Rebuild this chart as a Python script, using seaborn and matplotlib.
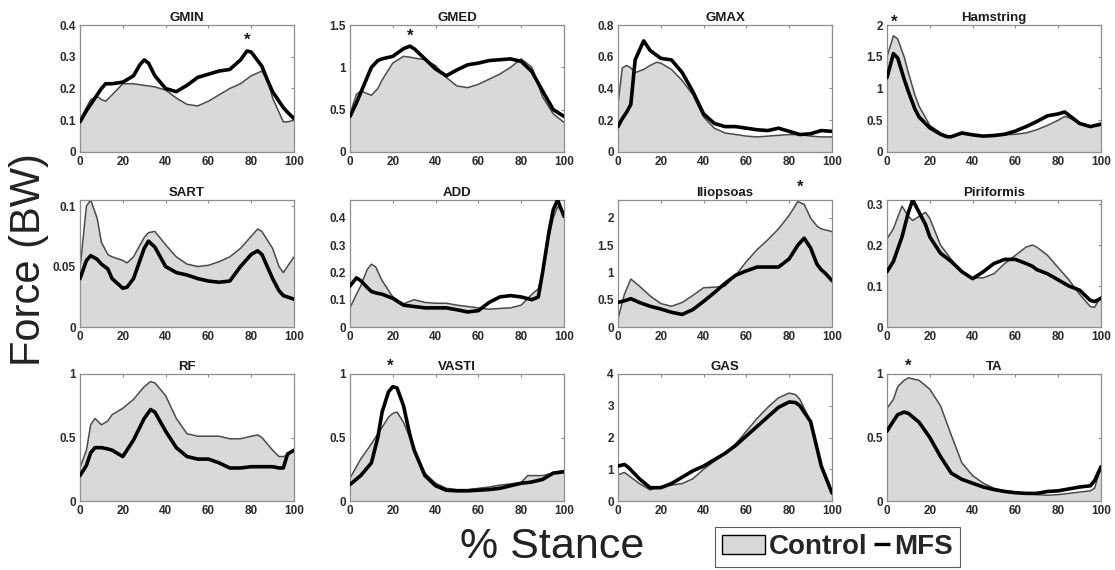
import matplotlib
matplotlib.use("Agg")
import matplotlib.pyplot as plt
from matplotlib.ticker import FuncFormatter
from matplotlib.lines import Line2D
from matplotlib.patches import Patch
from matplotlib.legend_handler import HandlerBase
import seaborn as sns

# ---------------- data ----------------
GMIN_X = [0, 3, 5, 8, 10, 12, 15, 20, 25, 28, 30, 32, 35, 40, 45, 50, 55, 60, 65, 70, 75, 78, 80, 85, 88, 90, 95, 97, 100]
GMIN_CTRL = [0.10, 0.14, 0.165, 0.175, 0.165, 0.16, 0.18, 0.215, 0.215, 0.212, 0.21, 0.208, 0.205, 0.195, 0.17, 0.15, 0.145, 0.16, 0.18, 0.20, 0.215, 0.23, 0.24, 0.255, 0.22, 0.17, 0.095, 0.095, 0.10]
GMIN_MFS = [0.095, 0.13, 0.15, 0.18, 0.20, 0.215, 0.215, 0.22, 0.24, 0.275, 0.29, 0.28, 0.24, 0.20, 0.19, 0.21, 0.235, 0.245, 0.255, 0.26, 0.29, 0.318, 0.315, 0.27, 0.22, 0.19, 0.14, 0.125, 0.105]

GMED_X = [0, 3, 5, 8, 10, 13, 15, 20, 25, 28, 30, 35, 40, 45, 50, 55, 60, 65, 70, 75, 80, 85, 90, 95, 100]
GMED_CTRL = [0.45, 0.68, 0.72, 0.69, 0.67, 0.75, 0.85, 1.05, 1.13, 1.12, 1.11, 1.09, 1.02, 0.88, 0.78, 0.76, 0.80, 0.86, 0.92, 1.00, 1.10, 1.00, 0.65, 0.45, 0.35]
GMED_MFS = [0.42, 0.58, 0.70, 0.88, 1.00, 1.08, 1.10, 1.13, 1.22, 1.25, 1.22, 1.10, 0.98, 0.90, 0.97, 1.03, 1.05, 1.08, 1.09, 1.10, 1.07, 0.95, 0.72, 0.50, 0.42]

GMAX_X = [0, 2, 4, 6, 8, 10, 12, 15, 18, 20, 25, 30, 35, 40, 45, 50, 55, 60, 65, 70, 75, 80, 85, 90, 95, 100]
GMAX_CTRL = [0.30, 0.53, 0.545, 0.53, 0.50, 0.51, 0.52, 0.545, 0.565, 0.56, 0.52, 0.45, 0.36, 0.22, 0.15, 0.12, 0.11, 0.10, 0.095, 0.10, 0.105, 0.11, 0.11, 0.10, 0.095, 0.095]
GMAX_MFS = [0.16, 0.21, 0.25, 0.30, 0.58, 0.64, 0.70, 0.64, 0.61, 0.59, 0.58, 0.50, 0.38, 0.24, 0.18, 0.16, 0.16, 0.15, 0.14, 0.135, 0.15, 0.13, 0.11, 0.115, 0.135, 0.13]

HAM_X = [0, 3, 5, 8, 10, 13, 15, 20, 25, 28, 30, 35, 40, 45, 50, 55, 60, 65, 70, 75, 80, 83, 85, 90, 95, 100]
HAM_CTRL = [1.50, 1.83, 1.78, 1.50, 1.25, 0.90, 0.72, 0.42, 0.30, 0.26, 0.25, 0.28, 0.27, 0.25, 0.25, 0.27, 0.28, 0.30, 0.35, 0.42, 0.50, 0.56, 0.54, 0.45, 0.40, 0.42]
HAM_MFS = [1.17, 1.55, 1.48, 1.15, 0.95, 0.68, 0.55, 0.38, 0.28, 0.24, 0.24, 0.30, 0.27, 0.25, 0.26, 0.28, 0.33, 0.40, 0.48, 0.57, 0.60, 0.63, 0.58, 0.45, 0.40, 0.44]

SART_X = [0, 3, 5, 8, 10, 13, 15, 20, 22, 25, 30, 32, 35, 40, 45, 50, 55, 60, 65, 70, 75, 80, 83, 85, 90, 93, 95, 100]
SART_CTRL = [0.048, 0.100, 0.105, 0.090, 0.070, 0.060, 0.058, 0.055, 0.053, 0.058, 0.074, 0.078, 0.079, 0.068, 0.058, 0.052, 0.050, 0.051, 0.054, 0.058, 0.065, 0.075, 0.081, 0.079, 0.065, 0.050, 0.045, 0.058]
SART_MFS = [0.040, 0.055, 0.059, 0.056, 0.052, 0.048, 0.040, 0.032, 0.033, 0.040, 0.065, 0.071, 0.066, 0.050, 0.045, 0.043, 0.040, 0.038, 0.037, 0.038, 0.050, 0.060, 0.063, 0.060, 0.040, 0.030, 0.026, 0.023]

ADD_X = [0, 3, 5, 8, 10, 12, 15, 20, 25, 30, 35, 40, 45, 50, 55, 60, 65, 70, 75, 80, 85, 88, 90, 93, 95, 97, 100]
ADD_CTRL = [0.07, 0.12, 0.15, 0.21, 0.23, 0.22, 0.17, 0.11, 0.085, 0.10, 0.09, 0.087, 0.087, 0.08, 0.075, 0.07, 0.065, 0.068, 0.07, 0.08, 0.12, 0.14, 0.20, 0.33, 0.40, 0.44, 0.42]
ADD_MFS = [0.15, 0.18, 0.17, 0.145, 0.13, 0.125, 0.12, 0.105, 0.08, 0.075, 0.07, 0.07, 0.07, 0.063, 0.055, 0.06, 0.09, 0.11, 0.115, 0.11, 0.10, 0.11, 0.20, 0.35, 0.43, 0.465, 0.405]

ILIO_X = [0, 3, 6, 10, 15, 20, 25, 30, 35, 40, 45, 50, 55, 60, 65, 70, 75, 80, 84, 87, 90, 93, 95, 97, 100]
ILIO_CTRL = [0.15, 0.60, 0.88, 0.75, 0.57, 0.43, 0.38, 0.45, 0.58, 0.72, 0.73, 0.75, 0.95, 1.20, 1.42, 1.60, 1.80, 2.05, 2.30, 2.25, 2.00, 1.85, 1.80, 1.78, 1.75]
ILIO_MFS = [0.45, 0.48, 0.52, 0.45, 0.38, 0.33, 0.27, 0.23, 0.32, 0.47, 0.63, 0.80, 0.95, 1.03, 1.10, 1.10, 1.10, 1.25, 1.50, 1.63, 1.45, 1.15, 1.05, 0.98, 0.85]

PIRI_X = [0, 3, 7, 10, 12, 15, 18, 20, 25, 30, 35, 40, 45, 50, 55, 60, 65, 68, 70, 75, 80, 85, 90, 95, 97, 100]
PIRI_CTRL = [0.215, 0.24, 0.295, 0.27, 0.26, 0.27, 0.28, 0.265, 0.20, 0.165, 0.135, 0.12, 0.12, 0.13, 0.155, 0.175, 0.195, 0.20, 0.195, 0.175, 0.145, 0.115, 0.08, 0.05, 0.048, 0.075]
PIRI_MFS = [0.135, 0.16, 0.22, 0.28, 0.31, 0.28, 0.25, 0.22, 0.18, 0.16, 0.135, 0.118, 0.135, 0.155, 0.165, 0.165, 0.155, 0.148, 0.14, 0.13, 0.115, 0.10, 0.09, 0.065, 0.062, 0.07]

RF_X = [0, 3, 5, 7, 10, 13, 15, 20, 25, 30, 33, 35, 40, 45, 50, 55, 60, 65, 70, 75, 80, 83, 85, 90, 93, 95, 97, 100]
RF_CTRL = [0.26, 0.40, 0.60, 0.65, 0.60, 0.63, 0.68, 0.73, 0.80, 0.90, 0.94, 0.93, 0.83, 0.65, 0.53, 0.51, 0.51, 0.51, 0.49, 0.49, 0.51, 0.52, 0.50, 0.40, 0.35, 0.35, 0.36, 0.40]
RF_MFS = [0.20, 0.28, 0.38, 0.42, 0.42, 0.41, 0.40, 0.35, 0.48, 0.65, 0.72, 0.70, 0.55, 0.42, 0.35, 0.33, 0.33, 0.30, 0.26, 0.26, 0.27, 0.27, 0.27, 0.27, 0.26, 0.26, 0.37, 0.40]

VAST_X = [0, 5, 10, 13, 15, 18, 20, 22, 25, 28, 30, 35, 40, 45, 50, 55, 60, 65, 70, 75, 80, 83, 85, 90, 95, 100]
VAST_CTRL = [0.18, 0.33, 0.45, 0.53, 0.58, 0.66, 0.69, 0.70, 0.62, 0.50, 0.40, 0.22, 0.14, 0.10, 0.09, 0.09, 0.10, 0.11, 0.125, 0.135, 0.145, 0.20, 0.20, 0.20, 0.22, 0.24]
VAST_MFS = [0.13, 0.20, 0.30, 0.50, 0.70, 0.86, 0.90, 0.89, 0.75, 0.52, 0.40, 0.20, 0.12, 0.085, 0.08, 0.08, 0.085, 0.09, 0.10, 0.12, 0.14, 0.145, 0.15, 0.17, 0.22, 0.23]

GAS_X = [0, 3, 5, 10, 15, 20, 25, 30, 35, 40, 45, 50, 55, 60, 65, 70, 75, 80, 83, 85, 90, 95, 100]
GAS_CTRL = [0.82, 0.90, 0.80, 0.55, 0.35, 0.45, 0.50, 0.55, 0.70, 1.00, 1.25, 1.50, 1.80, 2.20, 2.60, 2.95, 3.25, 3.40, 3.35, 3.20, 2.50, 1.10, 0.25]
GAS_MFS = [1.10, 1.15, 1.05, 0.70, 0.42, 0.42, 0.55, 0.75, 0.95, 1.10, 1.30, 1.50, 1.75, 2.05, 2.35, 2.65, 2.95, 3.12, 3.10, 3.00, 2.50, 1.10, 0.25]

TA_X = [0, 3, 5, 8, 10, 15, 20, 25, 30, 35, 40, 45, 50, 55, 60, 65, 70, 75, 80, 85, 90, 95, 97, 100]
TA_CTRL = [0.73, 0.80, 0.90, 0.95, 0.97, 0.95, 0.88, 0.75, 0.52, 0.30, 0.20, 0.14, 0.10, 0.08, 0.07, 0.06, 0.05, 0.045, 0.05, 0.06, 0.07, 0.08, 0.10, 0.27]
TA_MFS = [0.55, 0.63, 0.68, 0.70, 0.69, 0.62, 0.50, 0.35, 0.22, 0.17, 0.14, 0.11, 0.09, 0.075, 0.065, 0.06, 0.06, 0.075, 0.08, 0.095, 0.11, 0.12, 0.16, 0.27]

TITLES = ["GMIN", "GMED", "GMAX", "Hamstring", "SART", "ADD", "Iliopsoas", "Piriformis",
          "RF", "VASTI", "GAS", "TA"]
Y_MAX = [0.4, 1.5, 0.8, 2.0, 0.105, 0.465, 2.33, 0.31, 1.0, 1.0, 4.0, 1.0]
Y_TICKS = [[0, 0.1, 0.2, 0.3, 0.4], [0, 0.5, 1, 1.5], [0, 0.2, 0.4, 0.6, 0.8], [0, 0.5, 1, 1.5, 2],
           [0, 0.05, 0.1], [0, 0.1, 0.2, 0.3, 0.4], [0, 0.5, 1, 1.5, 2], [0, 0.1, 0.2, 0.3],
           [0, 0.5, 1], [0, 0.5, 1], [0, 1, 2, 3, 4], [0, 0.5, 1]]
X_TICKS = [0, 20, 40, 60, 80, 100]
# significance markers: (panel index, x, y)
STARS = [(0, 78, 0.352), (1, 28, 1.37), (3, 3.5, 2.04), (6, 85, 2.57), (9, 19, 1.06), (11, 10, 1.06)]

PANELS = [(GMIN_X, GMIN_CTRL, GMIN_MFS), (GMED_X, GMED_CTRL, GMED_MFS),
          (GMAX_X, GMAX_CTRL, GMAX_MFS), (HAM_X, HAM_CTRL, HAM_MFS),
          (SART_X, SART_CTRL, SART_MFS), (ADD_X, ADD_CTRL, ADD_MFS),
          (ILIO_X, ILIO_CTRL, ILIO_MFS), (PIRI_X, PIRI_CTRL, PIRI_MFS),
          (RF_X, RF_CTRL, RF_MFS), (VAST_X, VAST_CTRL, VAST_MFS),
          (GAS_X, GAS_CTRL, GAS_MFS), (TA_X, TA_CTRL, TA_MFS)]

# ---------------- styling ----------------
sns.set_theme(style="white")
plt.rcParams["font.family"] = ["Liberation Sans", "DejaVu Sans"]
plt.rcParams["font.weight"] = "bold"

FILL = "#d9d9d9"
CTRL_LINE = "#4a4a4a"
SPINE = "#8f8f8f"
TICKLBL = "#2b2b2b"

fig = plt.figure(figsize=(11.15, 5.70), dpi=100)
W, H = 1115.0, 570.0
lefts = [80, 350, 618, 887]
tops = [25, 200, 374]
aw, ah = 214, 127

fmt = FuncFormatter(lambda v, p: "%g" % v)
axes = []
for i, (xs, ctrl, mfs) in enumerate(PANELS):
    r, c = divmod(i, 4)
    ax = fig.add_axes([lefts[c] / W, 1 - (tops[r] + ah) / H, aw / W, ah / H])
    ax.fill_between(xs, ctrl, 0, color=FILL, linewidth=0, zorder=1)
    sns.lineplot(x=xs, y=ctrl, ax=ax, color=CTRL_LINE, linewidth=1.1, zorder=2)
    sns.lineplot(x=xs, y=mfs, ax=ax, color="black", linewidth=2.6, zorder=3)
    ax.set_xlim(0, 100)
    ax.set_ylim(0, Y_MAX[i])
    ax.set_xticks(X_TICKS)
    ax.set_yticks(Y_TICKS[i])
    ax.yaxis.set_major_formatter(fmt)
    ax.set_xlabel("")
    ax.set_ylabel("")
    ax.set_title(TITLES[i], fontsize=9.5, fontweight="bold", pad=3, color="#1a1a1a")
    for s in ax.spines.values():
        s.set_color(SPINE)
        s.set_linewidth(0.9)
        s.set_visible(True)
    ax.tick_params(direction="in", length=2.5, width=0.8, color=SPINE, top=True, right=True,
                   labelsize=8.5, labelcolor=TICKLBL, pad=3)
    ax.set_facecolor("white")
    axes.append(ax)

for idx, sx, sy in STARS:
    axes[idx].text(sx, sy, "*", ha="center", va="center", fontsize=12, fontweight="bold",
                   color="#1a1a1a", clip_on=False)

fig.text(0.026, 0.545, "Force (BW)", rotation=90, ha="center", va="center",
         fontsize=30, fontweight="normal", color="#222222")
fig.text(0.495, 0.04, "% Stance", ha="center", va="center",
         fontsize=31, fontweight="normal", color="#222222")


class ShortLineHandler(HandlerBase):
    """Draws the MFS legend key as a short line right next to its label."""
    def create_artists(self, legend, orig_handle, xdescent, ydescent, width, height,
                       fontsize, trans):
        y = height / 2.0 - ydescent
        ln = Line2D([width * 0.62, width], [y, y], color=orig_handle.get_color(),
                    linewidth=orig_handle.get_linewidth(), transform=trans,
                    solid_capstyle="butt")
        return [ln]


mfs_handle = Line2D([], [], color="black", linewidth=2.4)
handles = [Patch(facecolor=FILL, edgecolor="black", linewidth=1.0), mfs_handle]
leg = fig.legend(handles, ["Control", "MFS"], loc="center", bbox_to_anchor=(0.751, 0.04),
                 ncol=2, frameon=True, fancybox=False, handlelength=1.55, handletextpad=0.15,
                 columnspacing=-0.75, borderpad=0.25,
                 handler_map={mfs_handle: ShortLineHandler()},
                 prop={"size": 20, "weight": "bold"})
leg.get_frame().set_edgecolor("#333333")
leg.get_frame().set_linewidth(0.8)

fig.savefig("out.png", dpi=100, facecolor="white")
